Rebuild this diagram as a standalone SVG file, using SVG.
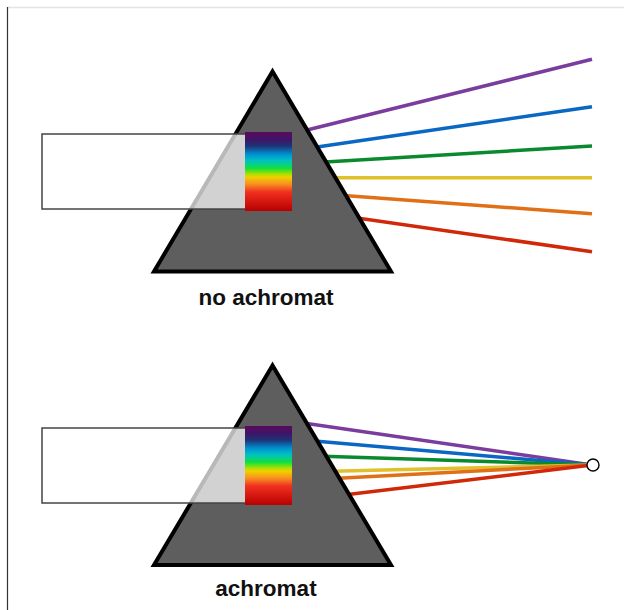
<svg xmlns="http://www.w3.org/2000/svg" width="624" height="610" viewBox="0 0 624 610">
  <defs>
    <linearGradient id="spectrum" x1="0" y1="0" x2="0" y2="1">
      <stop offset="0" stop-color="#5c0a5c"/>
      <stop offset="0.10" stop-color="#3c1668"/>
      <stop offset="0.18" stop-color="#1e3478"/>
      <stop offset="0.28" stop-color="#0090d0"/>
      <stop offset="0.36" stop-color="#00c0c4"/>
      <stop offset="0.46" stop-color="#10e040"/>
      <stop offset="0.53" stop-color="#a8e000"/>
      <stop offset="0.57" stop-color="#f0d000"/>
      <stop offset="0.66" stop-color="#f89020"/>
      <stop offset="0.76" stop-color="#f03020"/>
      <stop offset="1" stop-color="#b80000"/>
    </linearGradient>
  </defs>
  <style>
    .frame-top { stroke: #e4e4e4; stroke-width: 1.5; }
    .frame-left { stroke: #333; stroke-width: 1.2; }
    .ray { fill: none; stroke-width: 3.5; }
    .violet { stroke: #7a3d9e; }
    .blue { stroke: #0a68c4; }
    .green { stroke: #0a8a2e; }
    .yellow { stroke: #e0c02c; }
    .orange { stroke: #e07018; }
    .red { stroke: #d02808; }
    .prism { fill: #5e5e5e; stroke: #000; stroke-width: 4; stroke-linejoin: miter; }
    .beam { fill: #fff; fill-opacity: 0.72; stroke: #444; stroke-width: 1.5; }
    .label { font-family: "Liberation Sans", Arial, sans-serif; font-weight: bold; font-size: 22.5px; fill: #111; text-anchor: middle; }
    .focus { fill: #fff; stroke: #000; stroke-width: 1.4; }
  </style>

  <!-- page frame -->
  <line class="frame-top" x1="7" y1="7.5" x2="624" y2="7.5"/>
  <line class="frame-left" x1="7.5" y1="7" x2="7.5" y2="610"/>

  <!-- dispersed rays (no achromat) and converging rays (achromat) -->
  <g id="connectors">
    <line class="ray violet" x1="300" y1="131.8" x2="592" y2="59.3"/>
    <line class="ray blue" x1="300" y1="149.6" x2="592" y2="106.7"/>
    <line class="ray green" x1="300" y1="163.4" x2="592" y2="146"/>
    <line class="ray yellow" x1="300" y1="177.7" x2="592" y2="177.7"/>
    <line class="ray orange" x1="300" y1="192.2" x2="592" y2="213.7"/>
    <line class="ray red" x1="300" y1="209.7" x2="592" y2="251.7"/>

    <line class="ray violet" x1="300" y1="422.5" x2="592" y2="465"/>
    <line class="ray blue" x1="300" y1="439.8" x2="592" y2="465"/>
    <line class="ray green" x1="300" y1="455.6" x2="592" y2="465"/>
    <line class="ray yellow" x1="300" y1="471.9" x2="592" y2="465"/>
    <line class="ray orange" x1="300" y1="480.2" x2="592" y2="465"/>
    <line class="ray red" x1="300" y1="500.3" x2="592" y2="465"/>
  </g>

  <g id="prism-no-achromat">
    <polygon class="prism" points="272.5,71.5 154,271.5 391,271.5"/>
    <rect class="beam" x="42" y="134" width="220" height="75"/>
    <rect x="245" y="132" width="47" height="79" fill="url(#spectrum)"/>
    <text class="label" x="266" y="305">no achromat</text>
  </g>

  <g id="prism-achromat">
    <polygon class="prism" points="272.5,365.5 154,565 391,565"/>
    <rect class="beam" x="42" y="428" width="220" height="75"/>
    <rect x="245" y="426" width="47" height="79" fill="url(#spectrum)"/>
    <text class="label" x="266" y="596">achromat</text>
  </g>

  <g id="focal-point">
    <circle class="focus" cx="593" cy="465" r="6"/>
  </g>
</svg>
